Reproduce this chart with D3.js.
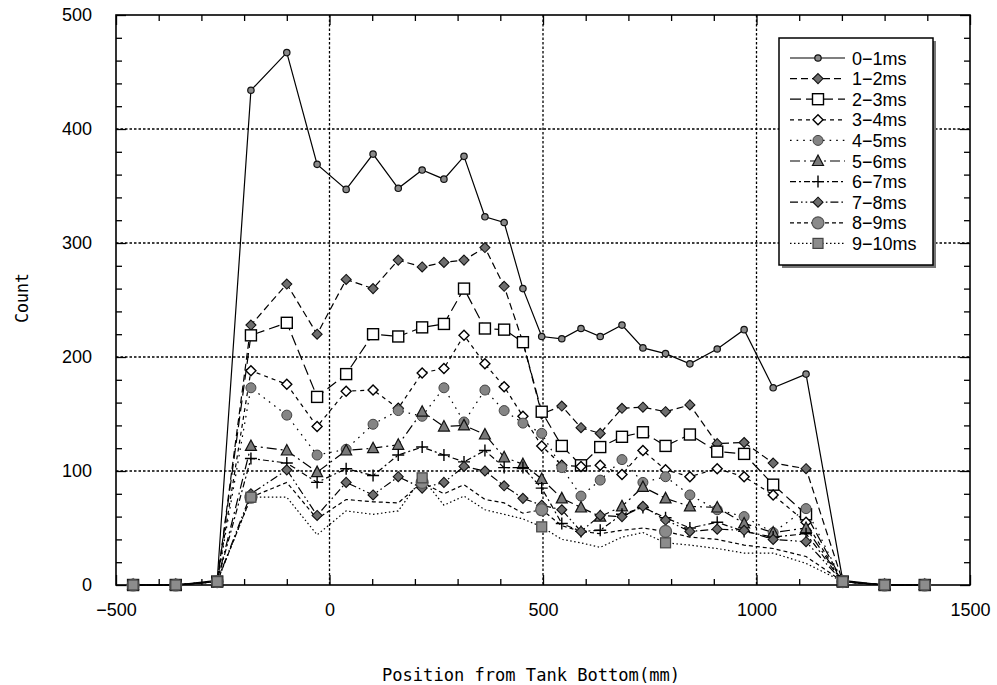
<!DOCTYPE html>
<html><head><meta charset="utf-8">
<script src="https://cdn.jsdelivr.net/npm/d3@7"></script>
<style>body{margin:0;background:#fff} svg{display:block}</style>
</head><body>
<svg id="chart" width="997" height="685"></svg>
<script>
// Detector positions (mm from tank bottom)
const positions = [-460,-360,-263,-184,-100,-29,39,102,161,217,268,315,364,409,453,497,544,589,634,685,734,787,844,908,971,1039,1116,1202,1300,1394];

// Counts per time window
const c0_1  = [0,0,4,434,467,369,347,378,348,364,356,376,323,318,260,218,216,225,218,228,208,203,194,207,224,173,185,4,0,0];
const c1_2  = [0,0,3,228,264,220,268,260,285,279,283,285,296,262,213,150,157,138,133,155,156,152,158,124,125,107,102,3,0,0];
const c2_3  = [0,0,3,219,230,165,185,220,218,226,229,260,225,224,213,152,122,105,121,130,134,122,132,117,115,88,62,3,0,0];
const c3_4  = [0,0,3,188,176,139,170,171,155,186,190,219,194,174,148,122,105,104,105,97,118,101,95,102,95,79,55,3,0,0];
const c4_5  = [0,0,3,173,149,114,119,141,153,148,173,143,171,153,142,133,103,78,92,110,90,95,79,66,60,46,67,3,0,0];
const c5_6  = [0,0,3,122,118,99,118,120,123,152,139,140,132,112,106,93,76,68,60,69,86,76,69,68,54,46,50,3,0,0];
const c6_7  = [0,0,3,111,107,90,102,96,114,121,114,108,118,103,103,85,54,47,48,62,68,59,50,55,47,42,45,3,0,0];
const c7_8  = [0,0,3,80,101,61,90,79,95,85,90,104,100,87,76,70,66,47,61,60,69,57,47,49,48,40,38,3,0,0];
const c8_9  = [0,0,3,77,90,58,75,73,72,90,80,88,75,72,63,66,52,47,45,48,50,47,42,40,35,32,25,3,0,0];
const c9_10 = [0,0,3,77,77,44,65,62,65,94,70,78,66,62,58,51,40,37,33,42,46,37,35,32,28,28,19,3,0,0];

const seriesLabels = ["0−1ms","1−2ms","2−3ms","3−4ms","4−5ms","5−6ms","6−7ms","7−8ms","8−9ms","9−10ms"];
const xMajorTicks = [-500,0,500,1000,1500];
const yMajorTicks = [0,100,200,300,400,500];
// the two slowest windows only carry a symbol on every sixth point
const sparseMarkIdx = [0,1,2,3,9,15,21,27,28,29];

const series = [
  {label: seriesLabels[0], values: c0_1,  dash: null,               marker: "dot"},
  {label: seriesLabels[1], values: c1_2,  dash: "7,4",              marker: "diamondFill"},
  {label: seriesLabels[2], values: c2_3,  dash: "11,5",             marker: "squareOpen"},
  {label: seriesLabels[3], values: c3_4,  dash: "4,4",              marker: "diamondOpen"},
  {label: seriesLabels[4], values: c4_5,  dash: "1.6,5",            marker: "circleGray"},
  {label: seriesLabels[5], values: c5_6,  dash: "10,4,2,4",         marker: "triangle"},
  {label: seriesLabels[6], values: c6_7,  dash: "6,3,2,3",          marker: "plus"},
  {label: seriesLabels[7], values: c7_8,  dash: "8,3,1.6,3,1.6,3",  marker: "diamondFill"},
  {label: seriesLabels[8], values: c8_9,  dash: "4,3",              marker: "circleBig", sparse: true},
  {label: seriesLabels[9], values: c9_10, dash: "1.5,2.5",          marker: "squareGray", sparse: true}
];

const plotLeft = 116, plotRight = 970, plotTop = 15, plotBottom = 585;

const svg = d3.select("#chart");
const x = d3.scaleLinear().domain([-500,1500]).range([plotLeft,plotRight]);
const y = d3.scaleLinear().domain([0,500]).range([plotBottom,plotTop]);

const fontNum = "'Liberation Sans', Arial, sans-serif";
const fontMono = "'DejaVu Sans Mono', 'Liberation Mono', monospace";

// grid
const grid = svg.append("g").attr("stroke","#000").attr("stroke-width",1.3).attr("stroke-dasharray","2.5,2");
grid.selectAll("line.v").data([0,500,1000]).join("line").attr("class","v")
  .attr("x1",d=>x(d)).attr("x2",d=>x(d)).attr("y1",plotTop).attr("y2",plotBottom);
grid.selectAll("line.h").data([100,200,300,400]).join("line").attr("class","h")
  .attr("y1",d=>y(d)).attr("y2",d=>y(d)).attr("x1",plotLeft).attr("x2",plotRight);

// axes: inward ticks on all four sides
const xMinor = d3.range(-500,1501,100).filter(v=>!xMajorTicks.includes(v));
const yMinor = d3.range(0,501,20).filter(v=>!yMajorTicks.includes(v));

function addAxis(gen, tr, vals, size, fmt, pad){
  const g = svg.append("g").attr("transform",tr)
    .call(gen.tickValues(vals).tickSizeInner(-size).tickSizeOuter(0).tickPadding(pad||3).tickFormat(fmt));
  g.select(".domain").remove();
  g.selectAll(".tick line").attr("stroke","#000").attr("stroke-width",1.3);
  g.selectAll("text").attr("font-family",fontNum).attr("font-size",18).attr("fill","#000");
  return g;
}
addAxis(d3.axisBottom(x), `translate(0,${plotBottom})`, xMajorTicks, 10, d3.format("d"), 18);
addAxis(d3.axisBottom(x), `translate(0,${plotBottom})`, xMinor, 6, ()=>"");
addAxis(d3.axisTop(x), `translate(0,${plotTop})`, xMajorTicks, 10, ()=>"");
addAxis(d3.axisTop(x), `translate(0,${plotTop})`, xMinor, 6, ()=>"");
addAxis(d3.axisLeft(y), `translate(${plotLeft},0)`, yMajorTicks, 10, d3.format("d"), 24);
addAxis(d3.axisLeft(y), `translate(${plotLeft},0)`, yMinor, 6, ()=>"");
addAxis(d3.axisRight(y), `translate(${plotRight},0)`, yMajorTicks, 10, ()=>"");
addAxis(d3.axisRight(y), `translate(${plotRight},0)`, yMinor, 6, ()=>"");

// frame
svg.append("rect").attr("x",plotLeft).attr("y",plotTop).attr("width",plotRight-plotLeft).attr("height",plotBottom-plotTop)
  .attr("fill","none").attr("stroke","#000").attr("stroke-width",1.6);

// axis titles
svg.append("text").attr("x",531).attr("y",681).attr("text-anchor","middle")
  .attr("font-family",fontMono).attr("font-size",18)
  .attr("textLength",298).attr("lengthAdjust","spacingAndGlyphs")
  .text("Position from Tank Bottom(mm)");
svg.append("text").attr("transform","translate(28,298) rotate(-90)").attr("text-anchor","middle")
  .attr("font-family",fontMono).attr("font-size",17)
  .attr("textLength",50).attr("lengthAdjust","spacingAndGlyphs")
  .text("Count");

// marker drawing
function drawMarker(g, type, cx, cy){
  const t = `translate(${cx},${cy})`;
  switch(type){
    case "dot":
      g.append("circle").attr("cx",cx).attr("cy",cy).attr("r",3.2).attr("fill","#8a8a8a").attr("stroke","#111").attr("stroke-width",1.2); break;
    case "diamondFill":
      g.append("path").attr("transform",t).attr("d","M0,-5L5,0L0,5L-5,0Z").attr("fill","#6e6e6e").attr("stroke","#111").attr("stroke-width",1.1); break;
    case "diamondOpen":
      g.append("path").attr("transform",t).attr("d","M0,-5L5,0L0,5L-5,0Z").attr("fill","#fff").attr("stroke","#000").attr("stroke-width",1.4); break;
    case "squareOpen":
      g.append("rect").attr("x",cx-5.5).attr("y",cy-5.5).attr("width",11).attr("height",11).attr("fill","#fff").attr("stroke","#000").attr("stroke-width",1.4); break;
    case "circleGray":
      g.append("circle").attr("cx",cx).attr("cy",cy).attr("r",5).attr("fill","#858585").attr("stroke","#444").attr("stroke-width",1); break;
    case "triangle":
      g.append("path").attr("transform",t).attr("d","M0,-6L5.5,4.5L-5.5,4.5Z").attr("fill","#7a7a7a").attr("stroke","#111").attr("stroke-width",1.2); break;
    case "plus":
      g.append("path").attr("transform",t).attr("d","M-6,0H6M0,-6V6").attr("stroke","#000").attr("stroke-width",1.4).attr("fill","none"); break;
    case "circleBig":
      g.append("circle").attr("cx",cx).attr("cy",cy).attr("r",6).attr("fill","#8a8a8a").attr("stroke","#555").attr("stroke-width",1.2); break;
    case "squareGray":
      g.append("rect").attr("x",cx-5).attr("y",cy-5).attr("width",10).attr("height",10).attr("fill","#8c8c8c").attr("stroke","#444").attr("stroke-width",1.2); break;
  }
}

// lines
const line = d3.line().x((d,i)=>x(positions[i])).y(d=>y(d));
const linesG = svg.append("g");
series.forEach(s=>{
  linesG.append("path").datum(s.values).attr("d",line)
    .attr("fill","none").attr("stroke","#000").attr("stroke-width",1.2)
    .attr("stroke-dasharray",s.dash);
});

// markers
const marksG = svg.append("g");
series.forEach(s=>{
  s.values.forEach((v,i)=>{
    if (s.sparse && !sparseMarkIdx.includes(i)) return;
    drawMarker(marksG, s.marker, x(positions[i]), y(v));
  });
});

// legend
const lg = svg.append("g");
lg.append("rect").attr("x",782).attr("y",41).attr("width",154).attr("height",227).attr("fill","#777");
lg.append("rect").attr("x",779).attr("y",38).attr("width",154).attr("height",227).attr("fill","#fff").attr("stroke","#000").attr("stroke-width",1.5);
series.forEach((s,i)=>{
  const ly = 58 + i*20.6;
  lg.append("line").attr("x1",790).attr("x2",845).attr("y1",ly).attr("y2",ly)
    .attr("stroke","#000").attr("stroke-width",1.2).attr("stroke-dasharray",s.dash);
  drawMarker(lg, s.marker, 818, ly);
  lg.append("text").attr("x",852).attr("y",ly+6.5).attr("font-family",fontNum).attr("font-size",18)
    .attr("fill","#000").text(s.label);
});
</script>
</body></html>
